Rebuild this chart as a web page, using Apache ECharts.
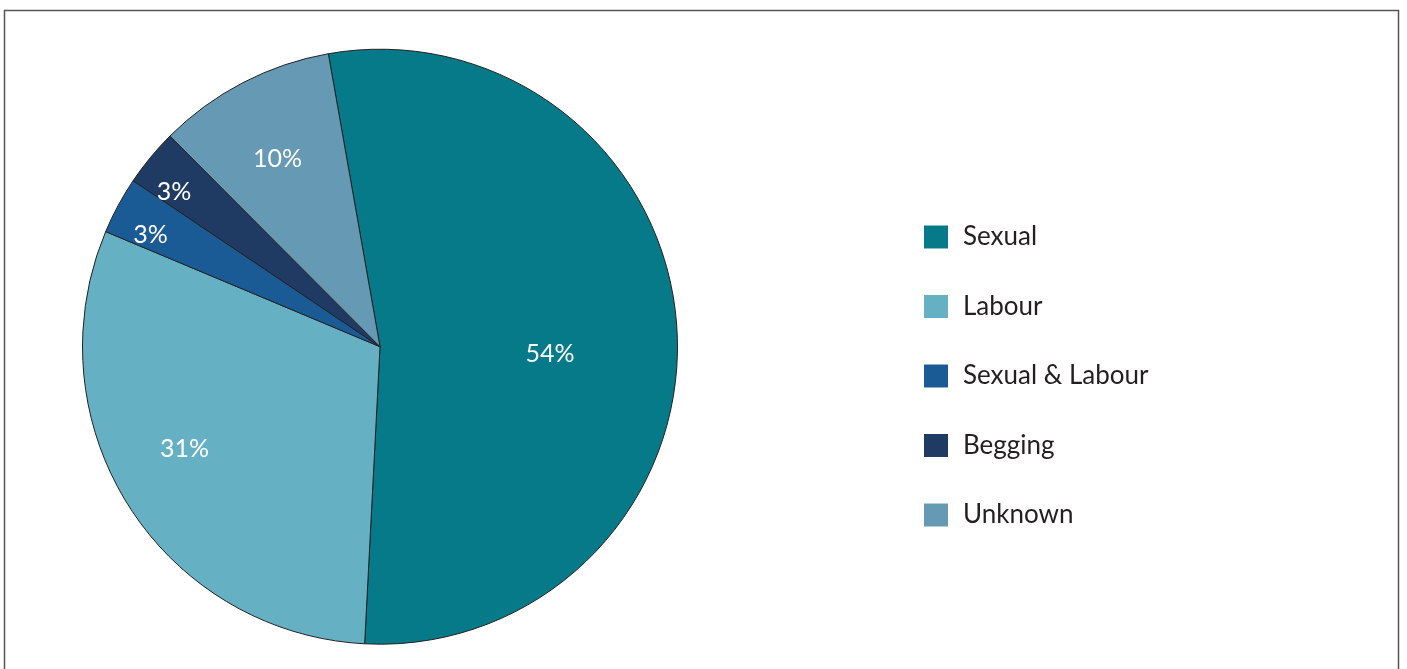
<!DOCTYPE html>
<html>
<head>
<meta charset="utf-8">
<script src="https://cdn.jsdelivr.net/npm/echarts@6/dist/echarts.min.js"></script>
<style>
html,body{margin:0;padding:0;background:#fff;}
#chart{width:1407px;height:669px;}
</style>
</head>
<body>
<div id="chart"></div>
<script>
const categories = ['Sexual', 'Labour', 'Sexual & Labour', 'Begging', 'Unknown'];
const shares = [53.6, 30.5, 3.1, 3.1, 9.7];

const colors = ['#077a8a', '#66b0c4', '#1b5b95', '#1f3a63', '#6699b4'];
const labelOffsets = [[18.5, 16.5], [-67, 21.5], [-96, -40], [-89, -58], [-32.5, -53]];

const chart = echarts.init(document.getElementById('chart'));
const pieData = categories.map((name, i) => ({
  name: name,
  value: shares[i],
  itemStyle: { color: colors[i] },
  label: { offset: labelOffsets[i] }
}));

chart.setOption({
  animation: false,
  backgroundColor: '#ffffff',
  graphic: [{
    type: 'rect',
    shape: { x: 4.5, y: 10.5, width: 1394, height: 700 },
    style: { fill: 'none', stroke: '#555555', lineWidth: 1.5 },
    silent: true
  }],
  legend: {
    orient: 'vertical',
    left: 924,
    top: 224,
    padding: 0,
    itemWidth: 24,
    itemHeight: 23,
    itemGap: 43.5,
    icon: 'rect',
    data: categories,
    itemStyle: { borderWidth: 0 },
    textStyle: {
      fontFamily: 'Lato',
      fontSize: 26,
      color: '#231f20',
      lineHeight: 23,
      padding: [0, 0, 0, 10]
    }
  },
  series: [{
    type: 'pie',
    center: [380, 346.7],
    radius: [0, 297.5],
    startAngle: 100,
    clockwise: true,
    data: pieData,
    itemStyle: { borderColor: '#222222', borderWidth: 1 },
    emphasis: { disabled: true },
    label: {
      show: true,
      position: 'inside',
      color: '#ffffff',
      fontFamily: 'Lato',
      fontSize: 25,
      formatter: p => Math.round(p.percent) + '%'
    },
    labelLine: { show: false }
  }]
});
</script>
</body>
</html>
